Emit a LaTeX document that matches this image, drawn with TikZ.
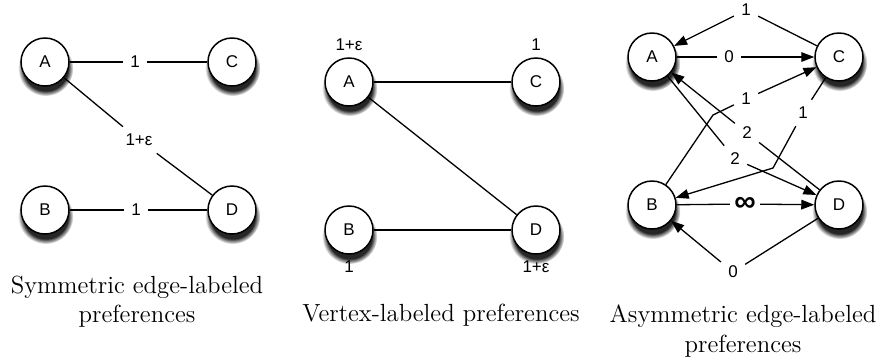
\documentclass[tikz,border=0pt]{standalone}
\usepackage{fontspec}
\setsansfont{Liberation Sans}
\usepackage{amsmath}
\usetikzlibrary{positioning, arrows.meta, shadows, fadings}

\begin{document}
\begin{tikzpicture}[x=0.5pt, y=-0.5pt,
    vertex/.style={circle, draw, fill=white, line width=0.75pt, minimum size=24pt, inner sep=0pt,
      font=\sffamily\fontsize{8.5}{10}\selectfont,
      drop shadow={shadow xshift=0.3pt, shadow yshift=-2.8pt, shadow scale=1.15, opacity=0.85,
        fill=black, path fading=circle with fuzzy edge 20 percent}},
    wlabel/.style={inner sep=3.5pt, font=\sffamily\fontsize{8.5}{10}\selectfont},
    vlabel/.style={inner sep=2pt, font=\sffamily\fontsize{8.5}{10}\selectfont},
    pref/.style={line width=0.65pt},
    prefarrow/.style={pref, -{Triangle[length=6.5pt, width=4.8pt]}},
    caption/.style={align=center, font=\fontsize{12.4}{14.6}\selectfont}]

    \useasboundingbox (0,0) rectangle (881,360);

    % Draw the vertices of the three graphs
    \foreach \g/\dx/\dy in {1/0/0, 2/304/20, 3/607/-5} {
      \foreach \n/\x/\y in {A/45/62, C/232/62, B/45/210, D/232/210}
        \node[vertex] (\n\g) at (\x+\dx,\y+\dy) {\n};
    }

    % Symmetric edge labels
    \node[wlabel] (ac1) at (135,62) {1};
    \node[wlabel] (ad1) at (139,140) {1+ε};
    \node[wlabel] (bd1) at (136,210) {1};
    \draw[pref] (A1) -- (ac1) -- (C1);
    \draw[pref] (A1) -- (ad1) -- (D1);
    \draw[pref] (B1) -- (bd1) -- (D1);

    % Vertex labels
    \draw[pref] (A2) -- (C2);
    \draw[pref] (A2) -- (D2);
    \draw[pref] (B2) -- (D2);
    \node[vlabel, above=1pt of A2] (wA2) {1+ε};
    \node[vlabel, above=1pt of C2] (wC2) {1};
    \node[vlabel, below=1pt of B2] (wB2) {1};
    \node[vlabel, below=1pt of D2] (wD2) {1+ε};

    % Asymmetric edge labels
    \node[wlabel] (ca3) at (746,10) {1};
    \node[wlabel] (ac3) at (729,57) {0};
    \node[wlabel] (bc3) at (746,99) {1};
    \node[wlabel] (cb3) at (803,113) {1};
    \node[wlabel] (da3) at (747,133) {2};
    \node[wlabel] (ad3) at (735,159) {2};
    \node[wlabel, inner sep=2pt] (bd3) at (745,204) {\fontsize{15}{15}\selectfont\bfseries ∞};
    \node[wlabel] (db3) at (733,272) {0};
    \coordinate (bcbend) at (713,115);
    \coordinate (cbbend) at (773,168);

    \draw[pref] (C3) -- (ca3);
    \draw[prefarrow] (ca3) -- (A3);
    \draw[pref] (A3) -- (ac3);
    \draw[prefarrow] (ac3) -- (C3);
    \draw[pref] (B3) -- (bcbend) -- (bc3);
    \draw[prefarrow] (bc3) -- (C3);
    \draw[pref] (C3) -- (cb3);
    \draw[prefarrow] (cb3) -- (cbbend) -- (B3);
    \draw[pref] (D3) -- (da3);
    \draw[prefarrow] (da3) -- (A3);
    \draw[pref] (A3) -- (ad3);
    \draw[prefarrow] (ad3) -- (D3);
    \draw[pref] (B3) -- (bd3);
    \draw[prefarrow] (bd3) -- (D3);
    \draw[pref] (D3) -- (db3);
    \draw[prefarrow] (db3) -- (B3);

    % Captions
    \node[caption] (cap1) at (137,302) {Symmetric edge-labeled\\preferences};
    \node[caption] (cap2) at (441,315) {Vertex-labeled preferences};
    \node[caption] (cap3) at (743,331) {Asymmetric edge-labeled\\preferences};

\end{tikzpicture}
\end{document}
